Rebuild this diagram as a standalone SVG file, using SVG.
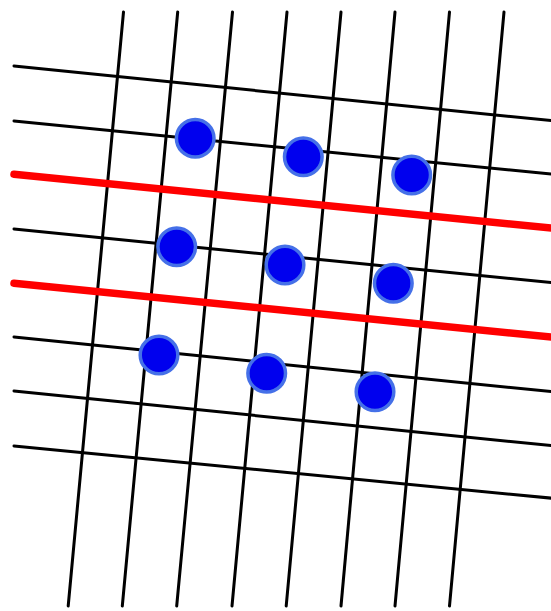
<svg xmlns="http://www.w3.org/2000/svg" width="551" height="611" viewBox="0 0 551 611">
<style>
.v,.h{stroke:#000;stroke-width:3;stroke-linecap:round;fill:none}
.r{stroke:#ff0000;stroke-width:7.5;stroke-linecap:round;fill:none}
.dot{fill:#0000ee;stroke:#4570e8;stroke-width:3.5}
</style>
<rect width="551" height="611" fill="#fff"/>
<g id="grid">
<line class="v" x1="123.5" y1="12" x2="68.2" y2="606"/>
<line class="v" x1="177.7" y1="12" x2="122.3" y2="606"/>
<line class="v" x1="232.5" y1="12" x2="176.7" y2="606"/>
<line class="v" x1="287" y1="12" x2="232" y2="606"/>
<line class="v" x1="341" y1="12" x2="286.2" y2="606"/>
<line class="v" x1="395" y1="12" x2="341" y2="606"/>
<line class="v" x1="449.5" y1="12" x2="395" y2="606"/>
<line class="v" x1="504" y1="12" x2="449.5" y2="606"/>
<line class="h" x1="14" y1="66" x2="560" y2="121.5"/>
<line class="h" x1="14" y1="121" x2="560" y2="175"/>
<line class="h" x1="14" y1="229" x2="560" y2="283.5"/>
<line class="h" x1="14" y1="337" x2="560" y2="392.5"/>
<line class="h" x1="14" y1="391" x2="560" y2="446.5"/>
<line class="h" x1="14" y1="446" x2="560" y2="499"/>
</g>
<g id="red-lines">
<line class="r" x1="14" y1="174.3" x2="560" y2="229"/>
<line class="r" x1="14" y1="283.3" x2="560" y2="338"/>
</g>
<g id="dots">
<circle class="dot" cx="195.2" cy="138.3" r="18.8"/>
<circle class="dot" cx="303.3" cy="156.7" r="18.8"/>
<circle class="dot" cx="411.7" cy="175" r="18.8"/>
<circle class="dot" cx="176.7" cy="246.7" r="18.8"/>
<circle class="dot" cx="285" cy="265" r="18.8"/>
<circle class="dot" cx="393.3" cy="283.3" r="18.8"/>
<circle class="dot" cx="159" cy="355" r="18.8"/>
<circle class="dot" cx="266.7" cy="373.3" r="18.8"/>
<circle class="dot" cx="375" cy="391.7" r="18.8"/>
</g>
</svg>
